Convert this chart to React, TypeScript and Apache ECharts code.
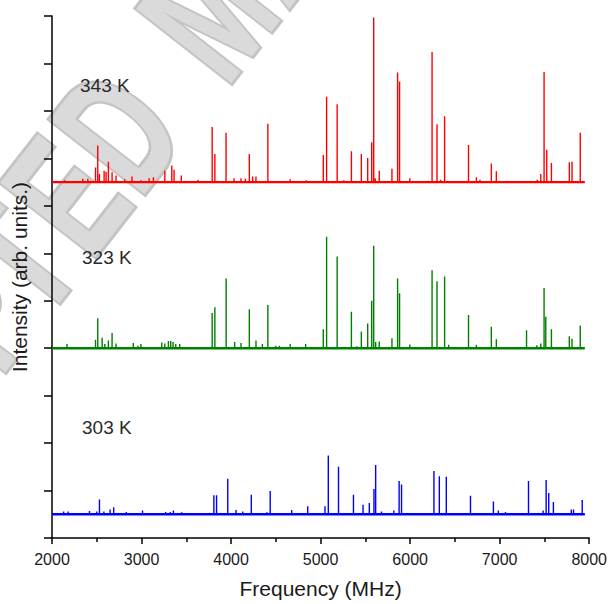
import React, { useEffect, useRef } from "react";
import * as echarts from "echarts";

const xMin = 2000;
const xMax = 8000;
const xInterval = 1000;
const spectrumStart = 2000;
const spectrumEnd = 7950;
const yMin = 0;
const yMax = 11;

const seriesNames = ["343 K", "323 K", "303 K"];
const seriesColors = ["#ff0000", "#008000", "#0000ff"];
const seriesOffsets = [7.5, 4.0, 0.5];

// [frequency (MHz), intensity (arb. units)]
const peaks343: [number, number][] = [
  [2141, 0.04], [2344, 0.07], [2400, 0.07], [2486, 0.31], [2511, 0.77], [2530, 0.17],
  [2582, 0.24], [2604, 0.22], [2630, 0.43], [2671, 0.21], [2715, 0.14], [2811, 0.06],
  [2893, 0.12], [2993, 0.04], [3085, 0.08], [3133, 0.1], [3260, 0.24], [3338, 0.35],
  [3363, 0.26], [3444, 0.14], [3630, 0.05], [3789, 1.16], [3819, 0.59], [3944, 1.04],
  [4033, 0.08], [4111, 0.08], [4160, 0.07], [4204, 0.59], [4241, 0.12], [4278, 0.12],
  [4411, 1.23], [4660, 0.06], [4840, 0.04], [5030, 0.57], [5067, 1.8], [5185, 1.64],
  [5260, 0.04], [5344, 0.65], [5455, 0.59], [5526, 0.51], [5571, 0.84], [5593, 3.47],
  [5610, 0.08], [5655, 0.24], [5797, 0.28], [5860, 2.31], [5882, 2.12], [5996, 0.08],
  [6245, 2.74], [6300, 1.22], [6340, 0.05], [6385, 1.39], [6652, 0.78], [6740, 0.1],
  [6780, 0.05], [6907, 0.39], [6963, 0.23], [7420, 0.05], [7459, 0.17], [7496, 2.32],
  [7526, 0.68], [7578, 0.4], [7778, 0.42], [7808, 0.43], [7900, 1.04],
];

const peaks323: [number, number][] = [
  [2167, 0.09], [2486, 0.18], [2511, 0.63], [2560, 0.22], [2590, 0.09], [2630, 0.16],
  [2671, 0.32], [2715, 0.1], [2908, 0.11], [2960, 0.05], [2993, 0.09], [3226, 0.12],
  [3260, 0.1], [3300, 0.15], [3326, 0.15], [3352, 0.13], [3382, 0.09], [3426, 0.09],
  [3789, 0.74], [3819, 0.86], [3945, 1.47], [4040, 0.13], [4111, 0.11], [4204, 0.82],
  [4278, 0.16], [4350, 0.09], [4411, 0.91], [4500, 0.05], [4540, 0.05], [4660, 0.09],
  [4833, 0.09], [5030, 0.4], [5067, 2.35], [5185, 1.93], [5344, 0.77], [5405, 0.04],
  [5455, 0.35], [5526, 0.52], [5571, 1.0], [5593, 2.16], [5615, 0.13], [5655, 0.14],
  [5797, 0.21], [5860, 1.47], [5882, 1.16], [5996, 0.08], [6245, 1.64], [6300, 1.41],
  [6385, 1.51], [6430, 0.07], [6652, 0.7], [6740, 0.07], [6907, 0.45], [6963, 0.19],
  [7300, 0.38], [7415, 0.06], [7459, 0.1], [7496, 1.27], [7515, 0.66], [7578, 0.4],
  [7778, 0.25], [7808, 0.2], [7900, 0.48],
];

const peaks303: [number, number][] = [
  [2130, 0.06], [2180, 0.06], [2419, 0.07], [2500, 0.06], [2530, 0.31], [2580, 0.06],
  [2649, 0.1], [2689, 0.15], [2830, 0.05], [3011, 0.08], [3270, 0.05], [3320, 0.05],
  [3356, 0.08], [3450, 0.04], [3808, 0.4], [3838, 0.4], [3963, 0.75], [4056, 0.09],
  [4130, 0.06], [4226, 0.41], [4400, 0.04], [4437, 0.49], [4677, 0.09], [4856, 0.17],
  [5049, 0.17], [5086, 1.24], [5200, 1.0], [5367, 0.41], [5474, 0.2], [5544, 0.24],
  [5596, 0.53], [5615, 1.04], [5680, 0.06], [5818, 0.08], [5877, 0.7], [5904, 0.63],
  [6266, 0.91], [6326, 0.8], [6404, 0.79], [6674, 0.39], [6930, 0.27], [6985, 0.08],
  [7065, 0.05], [7322, 0.7], [7485, 0.08], [7519, 0.72], [7548, 0.45], [7600, 0.26],
  [7800, 0.1], [7825, 0.1], [7922, 0.3],
];

const allPeaks = [peaks343, peaks323, peaks303];

// watermark letters (the visible part of "ACCEPTED MANUSCRIPT"), local offsets
const watermarkLetters: [string, number][] = [
  ["P", -232], ["T", -163], ["E", -86], ["D", -6], ["M", 135], ["A", 234],
];

function buildSticks(peaks: [number, number][], base: number): number[][] {
  const sorted = [...peaks].sort((a, b) => a[0] - b[0]);
  const out: number[][] = [[spectrumStart, base]];
  for (const [f, h] of sorted) {
    out.push([f, base], [f, base + h], [f, base]);
  }
  out.push([spectrumEnd, base]);
  return out;
}

const FONT = '"Liberation Sans", Arial, sans-serif';
const WM_SIZE = 175;

export default function App() {
  const ref = useRef<HTMLDivElement>(null);
  useEffect(() => {
    if (!ref.current) return;
    const chart = echarts.init(ref.current, undefined, { renderer: "svg" });
    const series: any[] = [];
    allPeaks.forEach((p, i) => {
      series.push({
        name: seriesNames[i] + " baseline",
        type: "line",
        data: [[spectrumStart, seriesOffsets[i]], [spectrumEnd, seriesOffsets[i]]],
        showSymbol: false,
        symbol: "none",
        lineStyle: { color: seriesColors[i], width: 2.4 },
        z: 3,
      });
      series.push({
        name: seriesNames[i],
        type: "line",
        data: buildSticks(p, seriesOffsets[i]),
        showSymbol: false,
        symbol: "none",
        lineStyle: { color: seriesColors[i], width: 1.4 },
        z: 4,
      });
    });

    const wmChildren = watermarkLetters.map(([ch, lx]) => ({
      type: "text",
      x: lx,
      y: -0.3465 * WM_SIZE,
      scaleX: 0.65,
      scaleY: 1,
      z: -10,
      style: {
        text: ch,
        font: `bold ${WM_SIZE}px ${FONT}`,
        fill: "#dadada",
        stroke: "#c4c4c4",
        lineWidth: 6,
        lineJoin: "round",
        align: "left",
        verticalAlign: "middle",
        shadowBlur: 4,
        shadowColor: "rgba(0,0,0,0.3)",
        shadowOffsetX: 2,
        shadowOffsetY: 2,
      },
    }));

    chart.setOption({
      animation: false,
      backgroundColor: "#ffffff",
      grid: { left: 52, right: 18, top: 16, bottom: 61, containLabel: false },
      xAxis: {
        type: "value",
        min: xMin,
        max: xMax,
        interval: xInterval,
        name: "Frequency (MHz)",
        nameLocation: "middle",
        nameGap: 40,
        nameTextStyle: { fontFamily: FONT, fontSize: 21, color: "#1a1a1a" },
        axisLine: { lineStyle: { color: "#000", width: 1.5 } },
        axisTick: { show: true, inside: false, length: 6, lineStyle: { color: "#000", width: 1.5 } },
        minorTick: { show: true, splitNumber: 2, length: 4, lineStyle: { color: "#000", width: 1.5 } },
        axisLabel: {
          fontFamily: FONT,
          fontSize: 16,
          color: "#1a1a1a",
          margin: 13,
          formatter: (v: number) => String(v),
        },
        splitLine: { show: false },
      },
      yAxis: {
        type: "value",
        min: yMin,
        max: yMax,
        interval: 1,
        name: "Intensity (arb. units.)",
        nameLocation: "middle",
        nameGap: 22,
        nameRotate: 90,
        nameTextStyle: { fontFamily: FONT, fontSize: 21, color: "#1a1a1a" },
        axisLine: { show: true, lineStyle: { color: "#000", width: 1.5 } },
        axisTick: { show: true, inside: false, length: 8, lineStyle: { color: "#000", width: 1.5 } },
        axisLabel: { show: false },
        splitLine: { show: false },
      },
      graphic: [
        {
          type: "group",
          x: 143,
          y: 195,
          rotation: (52 * Math.PI) / 180,
          z: -10,
          children: wmChildren,
        },
        {
          type: "text",
          left: 80,
          top: 76,
          z: 10,
          style: { text: seriesNames[0], font: `19px ${FONT}`, fill: "#2a2a2a" },
        },
        {
          type: "text",
          left: 82,
          top: 248,
          z: 10,
          style: { text: seriesNames[1], font: `19px ${FONT}`, fill: "#2a2a2a" },
        },
        {
          type: "text",
          left: 82,
          top: 418,
          z: 10,
          style: { text: seriesNames[2], font: `19px ${FONT}`, fill: "#2a2a2a" },
        },
      ],
      series,
    });
    return () => chart.dispose();
  }, []);
  return (
    <div
      ref={ref}
      style={{ position: "fixed", left: 0, top: 0, width: 610, height: 604, background: "#fff" }}
    />
  );
}
